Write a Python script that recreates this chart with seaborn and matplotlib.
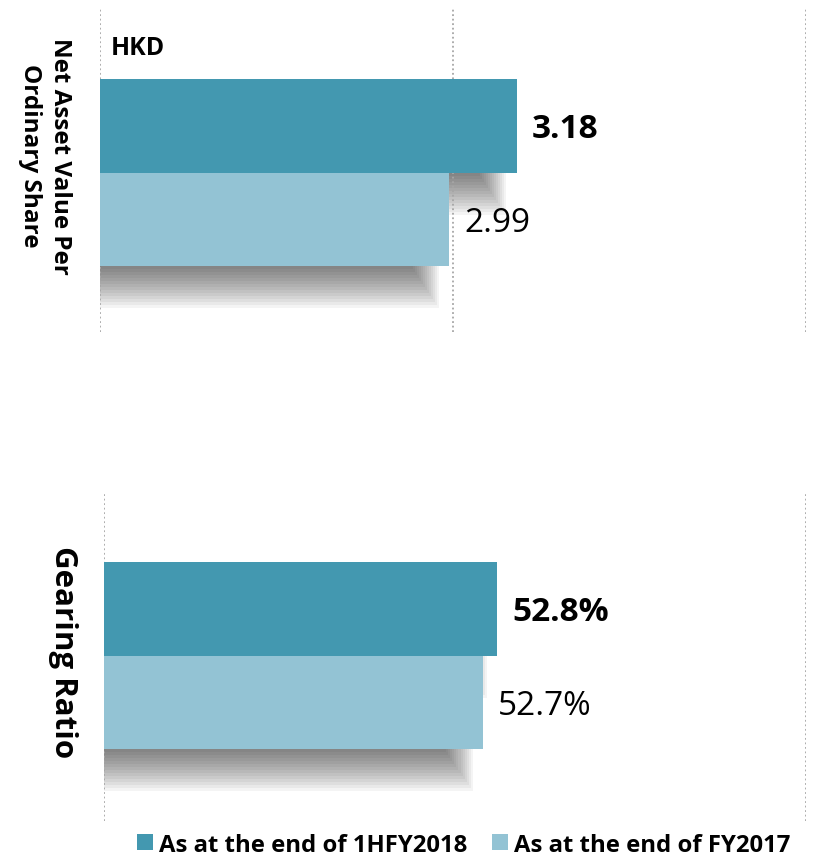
import pandas as pd
import matplotlib.pyplot as plt
import seaborn as sns
from matplotlib.lines import Line2D

# Data
series = ['As at the end of 1HFY2018', 'As at the end of FY2017']
nav_values = [3.18, 2.99]
nav_labels = ['3.18', '2.99']
gearing_values = [52.8, 52.7]
gearing_labels = ['52.8%', '52.7%']
colors = ['#4398B0', '#93C3D4']

sns.set_theme(style='white')
plt.rcParams['font.family'] = ['Open Sans', 'DejaVu Sans']
plt.rcParams['text.color'] = 'black'

fig = plt.figure(figsize=(8.17, 8.62), dpi=100)
ax_top = fig.add_axes([0.1224, 0.6137, 0.8641, 0.3747])
ax_bot = fig.add_axes([0.1273, 0.0464, 0.8592, 0.3817])


def draw_shadows(ax, values, xspan, depth=0.45, n=14):
    # soft drop shadow under each bar: stacked translucent layers
    for i, v in enumerate(values):
        bar_top = i - 0.5
        for k in range(n):
            frac = k / n
            bottom = i + 0.5 + depth * (1 - frac)
            right = v - xspan * (0.015 + 0.04 * frac)
            ax.barh(y=(bar_top + bottom) / 2, width=right, height=bottom - bar_top,
                    left=0, color='black', alpha=0.042, linewidth=0, zorder=0.2)


def panel(ax, values, labels, xlim, ticks, ylim):
    df = pd.DataFrame({'series': series, 'value': values})
    sns.barplot(data=df, x='value', y='series', hue='series', palette=colors,
                width=1.0, ax=ax, legend=False, saturation=1, zorder=1,
                linewidth=0, edgecolor='none')
    draw_shadows(ax, values, xlim[1] - xlim[0])
    ax.set_xlim(*xlim)
    ax.set_ylim(*ylim)
    ax.set_xticks(ticks)
    ax.set_axisbelow(True)
    ax.xaxis.grid(True, color='#A6A6A6', linestyle=(0, (1, 1.5)), linewidth=1.3)
    ax.yaxis.grid(False)
    ax.tick_params(left=False, bottom=False, labelleft=False, labelbottom=False)
    for s in ax.spines.values():
        s.set_visible(False)
    ax.set_xlabel('')
    ax.set_ylabel('')
    for i, (v, lab) in enumerate(zip(values, labels)):
        ax.annotate(lab, xy=(v, i), xytext=(11, -2), textcoords='offset points',
                    va='center', ha='left', fontsize=24,
                    fontweight='bold' if i == 0 else 'normal', color='black')


panel(ax_top, nav_values, nav_labels, (2, 4), [2, 3, 4], (2.203, -1.251))
panel(ax_bot, gearing_values, gearing_labels, (50, 55), [50, 55], (2.267, -1.251))

ax_top.text(0.0156, 0.882, 'HKD', transform=ax_top.transAxes, fontsize=18,
            fontweight='bold', va='center', ha='left', color='black')

fig.text(45 / 817, 1 - 156 / 862, 'Net Asset Value Per\nOrdinary Share', rotation=-90,
         ha='center', va='center', fontsize=17.5, fontweight='bold', linespacing=1.35,
         color='black')
fig.text(63 / 817, 1 - 652 / 862, 'Gearing Ratio', rotation=-90,
         ha='center', va='center', fontsize=22.5, fontweight='bold', color='black')

handles = [Line2D([], [], marker='s', linestyle='', markersize=11,
                  markerfacecolor=c, markeredgewidth=0) for c in colors]
fig.legend(handles, series, loc='lower left', bbox_to_anchor=(112 / 817, -0.02),
           ncol=2, frameon=False, prop={'weight': 'bold', 'size': 17.2},
           handletextpad=0.05, columnspacing=0.9, handlelength=1.0,
           labelcolor='black')

fig.savefig('out.png', dpi=100)
